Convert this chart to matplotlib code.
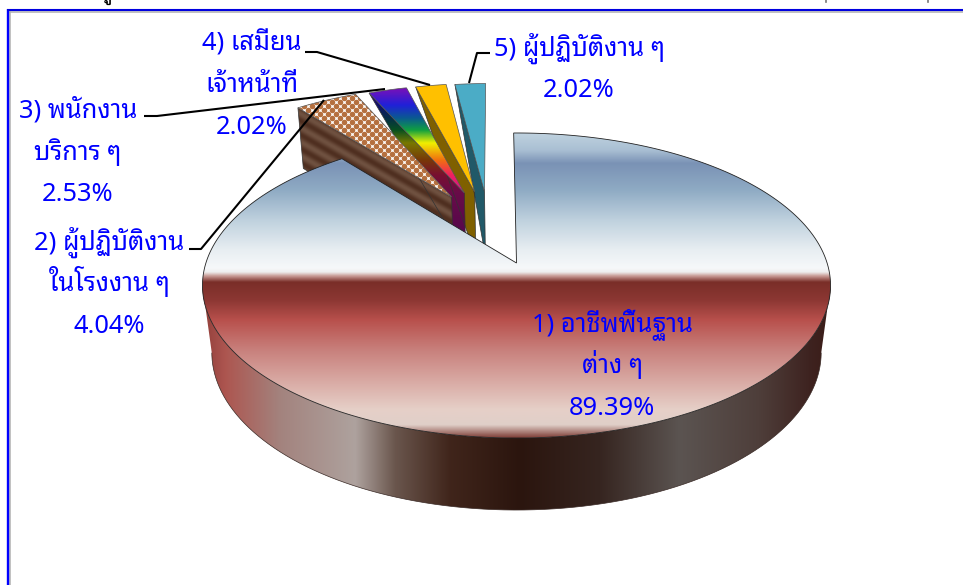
import numpy as np
import matplotlib
matplotlib.use("Agg")
import matplotlib.pyplot as plt
from matplotlib.colors import LinearSegmentedColormap, to_rgb
from matplotlib.patches import Polygon

plt.rcParams['font.family'] = ['Noto Sans Thai Looped', 'Noto Sans Thai', 'DejaVu Sans']

# chart data
names = ["1) อาชีพพื้นฐาน\nต่าง ๆ",
         "2) ผู้ปฏิบัติงาน\nในโรงงาน ๆ",
         "3) พนักงาน\nบริการ ๆ",
         "4) เสมียน\nเจ้าหน้าที่",
         "5) ผู้ปฏิบัติงาน ๆ"]
shares = [89.39, 4.04, 2.53, 2.02, 2.02]

# how far each slice is pulled out, and in which direction (deg clockwise from 12 o'clock)
explode_size = [0, 0.523, 0.535, 0.532, 0.524]
explode_dir = [0, 334.7, 340.3, 344.2, 347.8]
# wall height kept at the outer corner of the slice
wall_taper = [1, 1, 0, 0, 0]
slice_radius = [1, 0.97, 0.95, 0.95, 0.95]

# label placement, pixels: centre x, first baseline y
label_pos = [(612, 331.5), (109, 249.5), (78, 118), (252, 50.5), (579, 55.5)]
line_step = 41.7
# leader lines, pixels
leaders = [None,
           ([189, 201, 324], [249, 249, 100]),
           ([144, 157, 385], [116, 116, 89]),
           ([305, 317, 430], [52, 52, 85]),
           ([490, 477, 469], [53, 53, 83])]

# pie projection
cx, cy = 516.5, 263
R, K, P = 310.6, 149.2, 0.1475
DEPTH, SHRINK = 68.8, 0.03
START = -0.6


def project(u, v, d=0.0):
    w = 1 - P * v + SHRINK * d
    return cx + R * u / w, cy + (K * v + DEPTH * d) / w


def slice_outline(a0, a1, off, rad, n=60):
    t = np.radians(np.linspace(a0, a1, n))
    u = np.concatenate([[off[0]], off[0] + rad * np.sin(t)])
    v = np.concatenate([[off[1]], off[1] - rad * np.cos(t)])
    return u, v


def gradient(ax, stops, clip, axis="y", z=1):
    lo, hi = stops[0][0], stops[-1][0]
    cmap = LinearSegmentedColormap.from_list(
        "g", [((p - lo) / (hi - lo), c) for p, c in stops], N=512)
    ramp = np.linspace(0, 1, 512)
    if axis == "y":
        img = ramp.reshape(-1, 1)
        ext = (0, 963, hi, lo)
    else:
        img = ramp.reshape(1, -1)
        ext = (lo, hi, 585, 0)
    im = ax.imshow(img, cmap=cmap, extent=ext, aspect="auto", zorder=z,
                   interpolation="bilinear", origin="upper")
    im.set_clip_path(clip)


def darker(stops, f):
    return [(p, tuple(np.array(to_rgb(c)) * f)) for p, c in stops]


fig = plt.figure(figsize=(9.63, 5.85), dpi=100)
ax = fig.add_axes([0, 0, 1, 1])

top_main = [(133, "#bfd2df"), (150, "#a9bfd3"), (163, "#7a92b5"), (190, "#8fabc4"),
            (220, "#bfd1de"), (250, "#e8eef2"), (268, "#f6f8fa"), (272, "#efeeee"),
            (276, "#c89a94"), (282, "#7a2e28"), (300, "#8c3733"), (320, "#b8504c"),
            (350, "#c8807c"), (380, "#d8a8a2"), (410, "#e6d0c8"), (425, "#e0cfc8"),
            (438, "#7e3d36")]
wall_main = [(200, "#8f3c38"), (225, "#ad5650"), (280, "#a3837e"), (355, "#aea29e"),
             (395, "#6a564d"), (450, "#40251b"), (520, "#2b150e"), (600, "#362520"),
             (680, "#5b5451"), (760, "#4e3e3a"), (810, "#3e2320"), (835, "#3a1a16")]
rainbow = [(88, "#7a10b8"), (105, "#2020d8"), (118, "#0a5a90"), (130, "#10a040"),
           (143, "#f0f000"), (160, "#f07010"), (175, "#f02060"), (193, "#d01890")]
rainbow_wall = darker(rainbow, 0.5) + [(260, "#4a0650")]
top_fill = {3: "#ffc000", 4: "#4bacc6"}
wall_fill = {3: "#7f6000", 4: "#215968"}

edges = np.cumsum([0] + shares) / sum(shares) * 360 + START

# pulled out slices first, right to left, so each hides part of the wall of the next one
for i in [4, 3, 2, 1]:
    t = np.radians(explode_dir[i])
    off = (explode_size[i] * np.sin(t), -explode_size[i] * np.cos(t))
    u, v = slice_outline(edges[i], edges[i + 1], off, slice_radius[i])

    # wall along the left radial edge
    cu, cv = u[1], v[1]
    wx, wy = zip(project(cu, cv), project(off[0], off[1]), project(off[0], off[1], 1),
                 project(cu, cv, wall_taper[i]))
    wall = Polygon(np.c_[wx, wy], closed=True, fc="none", ec="none", transform=ax.transData)
    ax.add_patch(wall)
    if i == 1:
        xg, yg = np.meshgrid(np.arange(280, 470), np.arange(90, 280))
        phase = (yg - 108 - (xg - 297) * 0.574) / 14
        ax.imshow(np.sin(phase * 2 * np.pi), cmap=LinearSegmentedColormap.from_list(
            "w", ["#4f2f20", "#6f5140"]), extent=(280, 470, 280, 90), aspect="auto",
            zorder=2, origin="upper", interpolation="bilinear").set_clip_path(wall)
    elif i == 2:
        gradient(ax, rainbow_wall, wall, z=2)
    else:
        wall.set_facecolor(wall_fill[i])
        wall.set_zorder(2)
    ax.add_patch(Polygon(np.c_[wx, wy], closed=True, fc="none", ec="#333333", lw=0.5, zorder=2.1))

    # top face
    x, y = project(u, v)
    face = Polygon(np.c_[x, y], closed=True, fc="none", ec="none", transform=ax.transData)
    ax.add_patch(face)
    z = 3
    if i == 1:
        face.set_facecolor("#ffffff")
        face.set_zorder(z)
        # dotted texture of this slice
        gx, gy = np.meshgrid(np.arange(280, 470, 8.0), np.arange(90, 210, 4.0))
        gx = gx + (np.arange(gx.shape[0]) % 2).reshape(-1, 1) * 4.0
        dots = ax.scatter(gx.ravel(), gy.ravel(), s=16, c="#b5703f", lw=0, zorder=z + 0.1)
        dots.set_clip_path(face)
    elif i == 2:
        gradient(ax, rainbow, face, z=z)
    else:
        face.set_facecolor(top_fill[i])
        face.set_zorder(z)
    ax.add_patch(Polygon(np.c_[x, y], closed=True, fc="none", ec="#555555", lw=0.5, zorder=z + 0.2))

# main slice: wall then top face, in front of the others
tan = np.degrees(np.arccos(-P))
t = np.radians(np.linspace(tan, 360 - tan, 200))
xt, yt = project(np.sin(t), -np.cos(t))
xb, yb = project(np.sin(t), -np.cos(t), 1)
wall = Polygon(np.r_[np.c_[xt, yt], np.c_[xb, yb][::-1]], closed=True, fc="none", ec="none",
               transform=ax.transData)
ax.add_patch(wall)
gradient(ax, wall_main, wall, axis="x", z=4)
ax.plot(xb, yb, color="#3a2a26", lw=0.5, zorder=4.1)

u, v = slice_outline(edges[0], edges[1], (0, 0), 1, n=400)
x, y = project(u, v)
face = Polygon(np.c_[x, y], closed=True, fc="none", ec="none", transform=ax.transData)
ax.add_patch(face)
gradient(ax, top_main, face, z=5)
ax.add_patch(Polygon(np.c_[x, y], closed=True, fc="none", ec="#222222", lw=0.6, zorder=5.1))

# leader lines
for line in leaders:
    if line:
        ax.plot(line[0], line[1], color="black", lw=1.5, zorder=6, solid_capstyle="butt")

# labels
for name, share, pos in zip(names, shares, label_pos):
    lines = name.split("\n") + ["%.2f%%" % share]
    for j, txt in enumerate(lines):
        ax.text(pos[0], pos[1] + j * line_step, txt, color="#0000ff", fontsize=18.3,
                ha="center", va="baseline", zorder=7)

# frame around the chart, its title is cut off above it
ax.plot([10, 10], [12, 585], color="#b0b0b0", lw=1.1, zorder=8)
ax.plot([10, 963], [12, 12], color="#b0b0b0", lw=1.1, zorder=8)
ax.plot([8, 8], [9, 585], color="#0000ff", lw=1.7, zorder=9, solid_capstyle="butt")
ax.plot([7, 963], [10, 10], color="#0000e0", lw=1.5, zorder=9, solid_capstyle="butt")
ax.text(107, -1, "ผู้", color="black", fontsize=14, fontweight="bold", ha="center",
        va="baseline", zorder=9)
ax.plot([826, 826], [0, 2], color="#777777", lw=1.2, zorder=9)
ax.plot([928, 928], [0, 2], color="#777777", lw=1.2, zorder=9)

ax.set_xlim(0, 963)
ax.set_ylim(585, 0)
ax.axis("off")
fig.savefig("out.png", dpi=100)
